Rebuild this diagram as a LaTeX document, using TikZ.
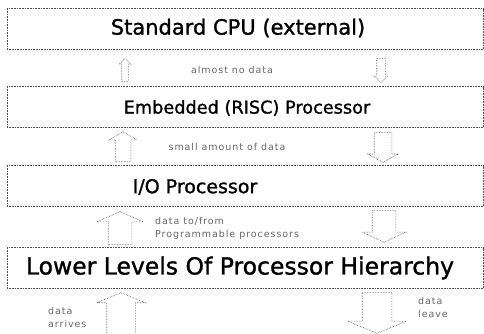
\documentclass[tikz,border=0pt]{standalone}
\usepackage{fontspec}
\setmainfont{DejaVu Sans}
\newfontfamily\titlefont[FakeBold=1.2]{DejaVu Sans}
\newfontfamily\notefont[LetterSpace=10]{DejaVu Sans}
\usetikzlibrary{shapes.arrows}
\tikzset{
  level box/.style={rectangle, draw=black!70, densely dotted, line width=0.6pt, minimum width=476pt, minimum height=41pt, inner sep=0pt},
  level title/.style={inner sep=0pt, text=black},
  flow note/.style={inner sep=0pt, text=black!60, font=\notefont\fontsize{9.5}{13}\selectfont, align=left},
  flow arrow/.style n args={4}{single arrow, draw=black!70, densely dotted, line width=0.6pt, inner xsep=0pt, inner ysep=#1, single arrow head extend=#2, minimum height=#3, single arrow tip angle=#4, anchor=tail}
}

\begin{document}
\begin{tikzpicture}[x=1pt, y=-1pt]
      \useasboundingbox (0,0) rectangle (484,333);
      % the four levels
      \node[level box] (cpu) at (245,29) {};
      \node[level box] (risc) at (245,107) {};
      \node[level box] (io) at (245,186) {};
      \node[level box] (lower) at (245,268) {};
      \node[level title, font=\titlefont\fontsize{21}{25}\selectfont] (cpu text) at (238,28) {Standard CPU (external)};
      \node[level title, font=\titlefont\fontsize{17.7}{21}\selectfont] (risc text) at (247,108) {Embedded (RISC) Processor};
      \node[level title, font=\titlefont\fontsize{19}{23}\selectfont] (io text) at (195,187) {I/O Processor};
      \node[level title, font=\titlefont\fontsize{23.5}{28}\selectfont] (lower text) at (240,268) {Lower Levels Of Processor Hierarchy};
      % data flow between levels
      \node[flow arrow={3pt}{2.5pt}{23pt}{95}, rotate=90] (up1) at (125,82) {};
      \node[flow arrow={4pt}{2.5pt}{24pt}{95}, rotate=-90] (down1) at (381,58) {};
      \node[flow arrow={7.5pt}{6pt}{30pt}{119}, rotate=90] (up2) at (123,162) {};
      \node[flow arrow={8.5pt}{6.5pt}{30pt}{123}, rotate=-90] (down2) at (383,132) {};
      \node[flow arrow={11.5pt}{11.5pt}{33pt}{133}, rotate=90] (up3) at (120,245) {};
      \node[flow arrow={11.5pt}{10pt}{32pt}{130}, rotate=-90] (down3) at (384,210) {};
      \node[flow arrow={14pt}{10pt}{44pt}{135}, rotate=90] (up4) at (121,337) {};
      \node[flow arrow={14.5pt}{14.5pt}{41pt}{135}, rotate=-90] (down4) at (377,292) {};
      % notes
      \node[flow note] (almost) at (232,70) {almost no data};
      \node[flow note] (small) at (227,147) {small amount of data};
      \node[flow note, anchor=west] (tofrom) at (155,228) {data to/from\\Programmable processors};
      \node[flow note, anchor=west] (arrives) at (48,317) {data\\arrives};
      \node[flow note, anchor=west] (leave) at (418,307) {data\\leave};
    \end{tikzpicture}
\end{document}
